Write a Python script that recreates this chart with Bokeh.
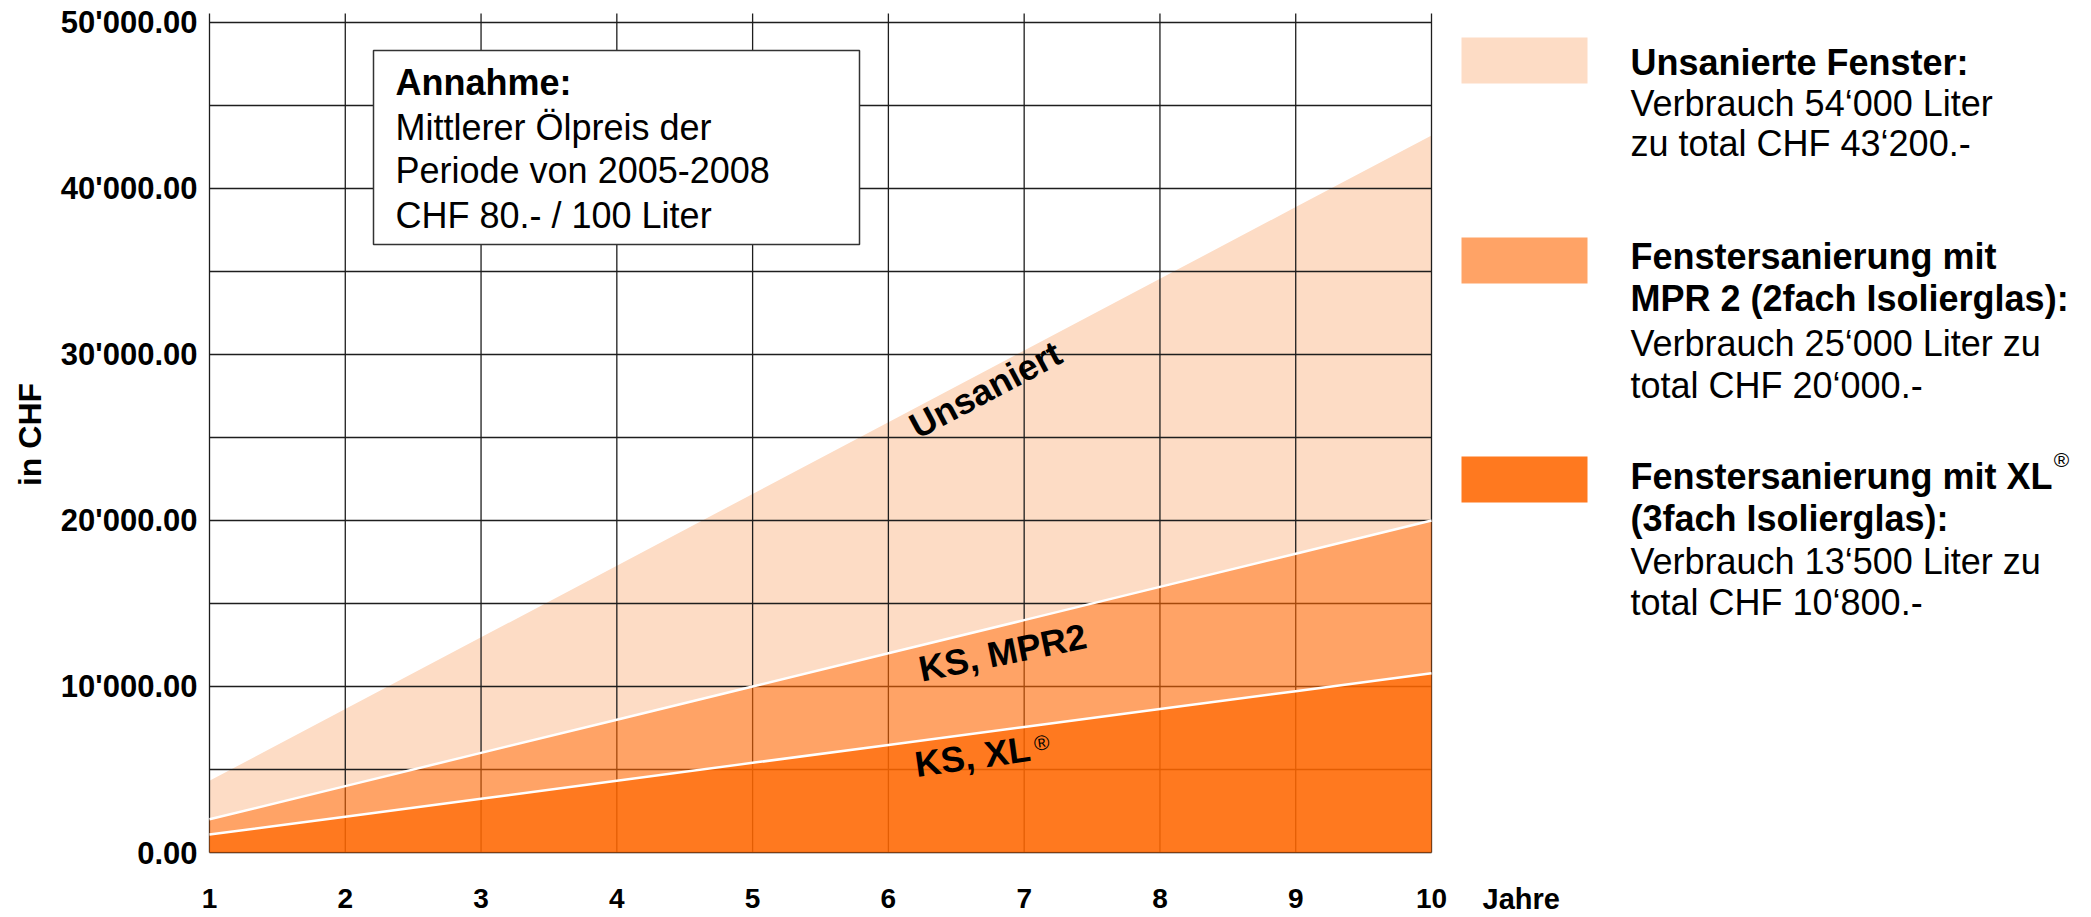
import numpy as np
from bokeh.plotting import figure
from bokeh.models import Range1d
from bokeh.core.properties import value
from bokeh.embed import file_html
from bokeh.resources import INLINE

# ---------------- data ----------------
years = [1, 2, 3, 4, 5, 6, 7, 8, 9, 10]
cost_unsaniert = [4320, 8640, 12960, 17280, 21600, 25920, 30240, 34560, 38880, 43200]
cost_mpr2 = [2000, 4000, 6000, 8000, 10000, 12000, 14000, 16000, 18000, 20000]
cost_xl = [1080, 2160, 3240, 4320, 5400, 6480, 7560, 8640, 9720, 10800]

y_ticks = [0, 10000, 20000, 30000, 40000, 50000]
y_tick_labels = ["0.00", "10'000.00", "20'000.00", "30'000.00", "40'000.00", "50'000.00"]
x_tick_labels = ["1", "2", "3", "4", "5", "6", "7", "8", "9", "10"]
grid_y = [0, 5000, 10000, 15000, 20000, 25000, 30000, 35000, 40000, 45000, 50000]
x_unit_label = "Jahre"
y_axis_label = "in CHF"

series_labels = ["Unsaniert", "KS, MPR2", "KS, XL"]
box_title = "Annahme:"
box_lines = ["Mittlerer Ölpreis der", "Periode von 2005-2008", "CHF 80.- / 100 Liter"]
legend_groups = [
    (["Unsanierte Fenster:"], ["Verbrauch 54‘000 Liter", "zu total CHF 43‘200.-"]),
    (["Fenstersanierung mit", "MPR 2 (2fach Isolierglas):"], ["Verbrauch 25‘000 Liter zu", "total CHF 20‘000.-"]),
    (["Fenstersanierung mit XL", "(3fach Isolierglas):"], ["Verbrauch 13‘500 Liter zu", "total CHF 10‘800.-"]),
]

# ---------------- style / geometry ----------------
FONT = value("Liberation Sans")
PEACH, MID, DARK = "#FDDCC5", "#FFA366", "#FF791F"
GRID = "#1e1e1e"
FIG_W, FIG_H = 2083, 917
X0_PX, ZERO_PX = 209, 852          # page pixel of year 1 and of CHF 0
PX_PER_YEAR = 1222 / 9.0
PX_PER_CHF = 830 / 50000.0


def X(px):  # page pixel -> data x
    return 1 + (px - X0_PX) / PX_PER_YEAR


def Y(py):  # page pixel -> data y
    return (ZERO_PX - py) / PX_PER_CHF


Y_TOP = Y(13)

p = figure(width=FIG_W, height=FIG_H, output_backend="svg", toolbar_location=None,
           x_range=Range1d(X(0), X(FIG_W)), y_range=Range1d(Y(FIG_H), Y(0)),
           min_border=0, x_axis_location=None, y_axis_location=None)
p.background_fill_color = "white"
p.border_fill_color = "white"
p.outline_line_color = None
p.xgrid.visible = False
p.ygrid.visible = False

# peach band (unsaniert above MPR2)
p.varea(x=years, y1=cost_mpr2, y2=cost_unsaniert, fill_color=PEACH)

# grid lines
p.segment(x0=[years[0]] * len(grid_y), x1=[years[-1]] * len(grid_y), y0=grid_y, y1=grid_y,
          line_color=GRID, line_width=1.3)
p.segment(x0=years, x1=years, y0=[0] * len(years), y1=[Y_TOP] * len(years),
          line_color=GRID, line_width=1.3)

# translucent bands over the grid
p.varea(x=years, y1=cost_xl, y2=cost_mpr2, fill_color="#FF6600", fill_alpha=0.6)
p.varea(x=years, y1=[0] * len(years), y2=cost_xl, fill_color="#FF6700", fill_alpha=0.88)

# white boundary lines
p.line(years, cost_mpr2, line_color="white", line_width=2.5)
p.line(years, cost_xl, line_color="white", line_width=2.5)


def txt(xs, ys, texts, size, bold=False, align="left", angle=0.0):
    p.text(x=xs, y=ys, text=texts, angle=angle, text_font=FONT, text_font_size=size,
           text_font_style="bold" if bold else "normal", text_color="black",
           text_align=align, text_baseline="middle")


# ---------------- axes (as text) ----------------
txt([X(197)] * len(y_ticks), y_ticks, y_tick_labels, "31px", bold=True, align="right")
txt(years, [Y(898)] * len(years), x_tick_labels, "28px", bold=True, align="center")
txt([X(1482)], [Y(898)], [x_unit_label], "29px", bold=True)
txt([X(29)], [Y(434)], [y_axis_label], "32px", bold=True, align="center", angle=np.pi / 2)

# ---------------- annotation box ----------------
p.quad(left=[X(373)], right=[X(859)], top=[Y(50)], bottom=[Y(244)],
       fill_color="white", line_color="#333333", line_width=1.5)
txt([X(395)], [Y(82)], [box_title], "36px", bold=True)
txt([X(395)] * 3, [Y(127), Y(170), Y(215)], box_lines, "36px")

# ---------------- series labels ----------------
txt([X(985)], [Y(389)], [series_labels[0]], "36px", bold=True, align="center",
    angle=np.deg2rad(28))
txt([X(1002)], [Y(652)], [series_labels[1]], "36px", bold=True, align="center",
    angle=np.deg2rad(11.5))
txt([X(972)], [Y(756)], [series_labels[2]], "36px", bold=True, align="center",
    angle=np.deg2rad(8))
txt([X(1041)], [Y(742)], ["®"], "21px", align="center", angle=np.deg2rad(8))

# ---------------- legend ----------------
sw_tops = [37, 237, 456]
p.quad(left=[X(1461)] * 3, right=[X(1587)] * 3, top=[Y(t) for t in sw_tops],
       bottom=[Y(t + 46) for t in sw_tops], fill_color=[PEACH, MID, DARK], line_color=None)
centers = [[62, 103, 143], [256, 298, 343, 385], [476, 518, 561, 602]]
for (bold_lines, norm_lines), cl in zip(legend_groups, centers):
    nb = len(bold_lines)
    txt([X(1630)] * nb, [Y(c) for c in cl[:nb]], bold_lines, "36px", bold=True)
    txt([X(1630)] * len(norm_lines), [Y(c) for c in cl[nb:]], norm_lines, "36px")
txt([X(2061)], [Y(459)], ["®"], "21px", align="center")

open("out.html", "w").write(file_html(p, INLINE))
